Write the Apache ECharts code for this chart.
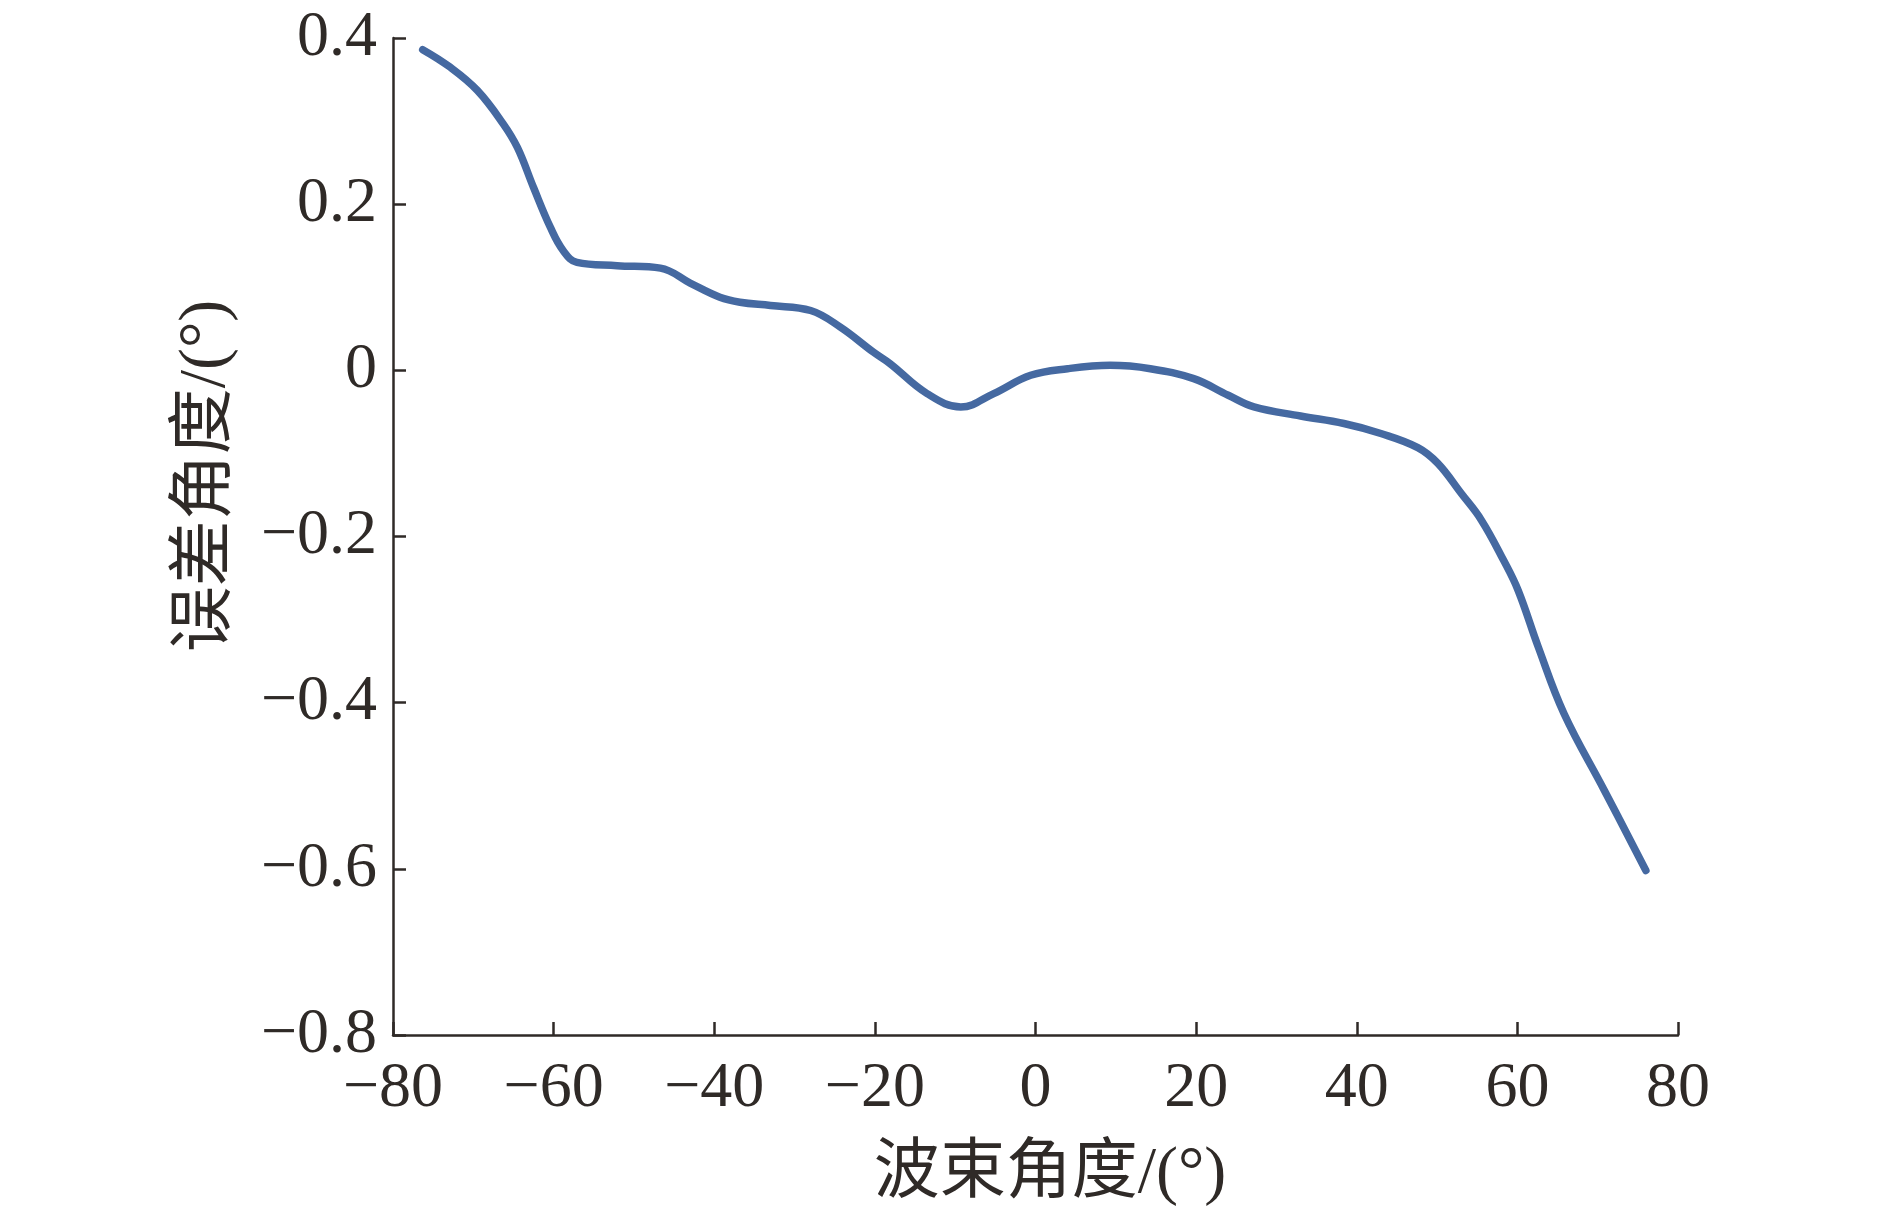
<!DOCTYPE html>
<html>
<head>
<meta charset="utf-8">
<script src="https://cdn.jsdelivr.net/npm/echarts@6/dist/echarts.min.js"></script>
<style>
  html, body { margin: 0; padding: 0; background: #fff; }
  #chart { width: 1890px; height: 1217px; }
</style>
</head>
<body>
<div id="chart"></div>
<script>
// 波束角度 (°)
const beamAngle = [
  -76.3, -72.9, -69.5, -66.3, -64.5, -62.5, -60.4, -58.8, -57.1, -52.1,
  -46.7, -43.0, -39.3, -36.8, -33.0, -28.0, -24.3, -20.2, -18.1, -13.5,
  -9.3, -5.2, -0.6, 4.0, 9.3, 14.3, 19.7, 24.0, 27.2, 33.0,
  38.4, 43.0, 47.6, 50.1, 53.0, 55.5, 58.3, 60.1, 62.6, 65.8, 70.8, 76.0
]
// 误差角度 (°)
const errAngle = [
  0.386, 0.365, 0.337, 0.297, 0.268, 0.220, 0.172, 0.144, 0.130, 0.126,
  0.123, 0.105, 0.088, 0.082, 0.078, 0.072, 0.052, 0.022, 0.008, -0.028,
  -0.044, -0.028, -0.006, 0.002, 0.006, 0.002, -0.010, -0.030, -0.044, -0.055,
  -0.064, -0.076, -0.093, -0.112, -0.148, -0.180, -0.229, -0.265, -0.333, -0.413, -0.505, -0.602
]
const xTicks = [-80, 80, 20]   // min, max, interval
const yTicks = [-0.8, 0.4, 0.2]

const axisColor = '#2f2a27'
const serif = '"Liberation Serif", "Noto Sans CJK SC", serif'
const fmt = v => (Math.round(v * 10) / 10).toString().replace('-', '\u2212')

const chart = echarts.init(document.getElementById('chart'))
const option = {
  animation: false,
  grid: { left: 393, right: 212, top: 38, bottom: 182 },
  xAxis: {
    type: 'value',
    min: xTicks[0], max: xTicks[1], interval: xTicks[2],
    axisLine: { onZero: false, lineStyle: { color: axisColor, width: 2.5 } },
    axisTick: { inside: true, length: 13, lineStyle: { color: axisColor, width: 2.5 } },
    axisLabel: { fontFamily: serif, fontSize: 64, color: axisColor, margin: 22, formatter: fmt },
    splitLine: { show: false }
  },
  yAxis: {
    type: 'value',
    min: yTicks[0], max: yTicks[1], interval: yTicks[2],
    axisLine: { show: true, onZero: false, lineStyle: { color: axisColor, width: 2.5 } },
    axisTick: { show: true, inside: true, length: 13, lineStyle: { color: axisColor, width: 2.5 } },
    axisLabel: { fontFamily: serif, fontSize: 64, color: axisColor, margin: 16, formatter: fmt },
    splitLine: { show: false }
  },
  graphic: [{
    type: 'text',
    x: 207, y: 476,
    rotation: Math.PI / 2,
    style: {
      text: '误差角度/(°)',
      font: '66px ' + serif,
      fill: axisColor,
      align: 'center',
      verticalAlign: 'middle'
    }
  }, {
    type: 'text',
    x: 1050, y: 1175,
    style: {
      text: '波束角度/(°)',
      font: '66px ' + serif,
      fill: axisColor,
      align: 'center',
      verticalAlign: 'middle'
    }
  }],
  series: [{
    type: 'line',
    data: beamAngle.map((x, i) => [x, errAngle[i]]),
    smooth: 0.4,
    showSymbol: false,
    lineStyle: { color: '#4569a1', width: 7.5, cap: 'round' }
  }]
}
chart.setOption(option)
window.addEventListener('resize', () => chart.resize())
</script>
</body>
</html>
